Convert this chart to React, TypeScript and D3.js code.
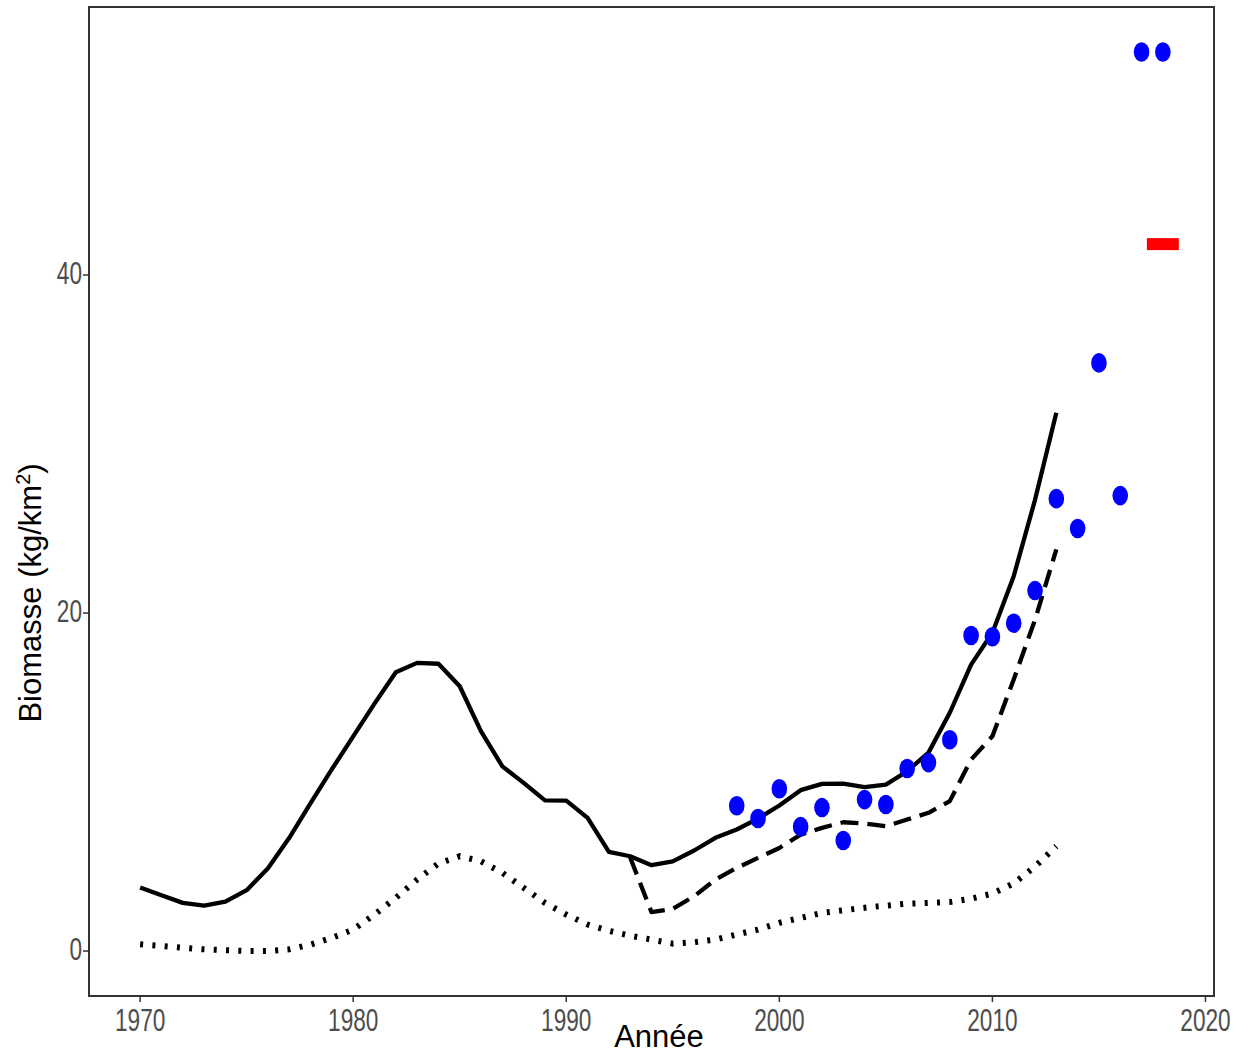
import { useEffect, useRef } from "react";
import * as d3 from "d3";

// Model estimate (solid), 1970-2013
const modelYears = [
  1970, 1971, 1972, 1973, 1974, 1975, 1976, 1977, 1978, 1979,
  1980, 1981, 1982, 1983, 1984, 1985, 1986, 1987, 1988, 1989,
  1990, 1991, 1992, 1993, 1994, 1995, 1996, 1997, 1998, 1999,
  2000, 2001, 2002, 2003, 2004, 2005, 2006, 2007, 2008, 2009,
  2010, 2011, 2012, 2013,
];
const solidValues = [
  3.76, 3.3, 2.85, 2.69, 2.93, 3.6, 4.9, 6.7, 8.75, 10.76,
  12.7, 14.64, 16.5, 17.05, 17.0, 15.67, 13.0, 10.93, 9.95, 8.92,
  8.9, 7.88, 5.87, 5.61, 5.08, 5.31, 5.95, 6.7, 7.19, 7.84,
  8.61, 9.52, 9.89, 9.91, 9.7, 9.85, 10.64, 11.74, 14.1, 16.95,
  18.83, 22.18, 26.7, 31.85,
];
const dottedValues = [
  0.4, 0.3, 0.2, 0.1, 0.05, 0.0, 0.0, 0.1, 0.38, 0.78,
  1.27, 2.16, 3.15, 4.23, 5.18, 5.61, 5.31, 4.63, 3.74, 2.85,
  2.16, 1.57, 1.2, 0.9, 0.68, 0.44, 0.52, 0.68, 0.98, 1.27,
  1.67, 1.96, 2.26, 2.41, 2.56, 2.69, 2.8, 2.85, 2.9, 3.1,
  3.4, 4.0, 5.0, 6.2,
];

// Dashed series, 1993-2013
const dashedYears = [
  1993, 1994, 1995, 1996, 1997, 1998, 1999, 2000, 2001, 2002,
  2003, 2004, 2005, 2006, 2007, 2008, 2009, 2010, 2011, 2012, 2013,
];
const dashedValues = [
  5.53, 2.3, 2.5, 3.24, 4.23, 4.92, 5.51, 6.1, 6.89, 7.29,
  7.62, 7.54, 7.38, 7.78, 8.18, 8.87, 11.33, 12.71, 16.07, 19.6, 23.76,
];

// Survey points (blue)
const surveyYears = [
  1998, 1999, 2000, 2001, 2002, 2003, 2004, 2005, 2006, 2007,
  2008, 2009, 2010, 2011, 2012, 2013, 2014, 2015, 2016, 2017, 2018,
];
const surveyValues = [
  8.6, 7.84, 9.6, 7.36, 8.49, 6.54, 8.96, 8.67, 10.8, 11.15,
  12.5, 18.67, 18.6, 19.4, 21.33, 26.77, 25.0, 34.8, 26.95, 53.2, 53.2,
];

// Red bar
const redYear = 2018;
const redValue = 41.83;

const xTicks = [1970, 1980, 1990, 2000, 2010, 2020];
const yTicks = [0, 20, 40];

export default function App() {
  const svgRef = useRef<SVGSVGElement>(null);

  useEffect(() => {
    if (!svgRef.current) return;
    document.body.style.margin = "0";

    const W = 1242;
    const H = 1053;
    const panel = { left: 89, right: 1214, top: 7, bottom: 996 };

    const svg = d3.select(svgRef.current);
    svg.selectAll("*").remove();
    svg.attr("width", W).attr("height", H).attr("viewBox", `0 0 ${W} ${H}`);

    // ggplot-style 5% expansion
    const xData: [number, number] = [1970, 2018];
    const yData: [number, number] = [0, 53.2];
    const xPad = (xData[1] - xData[0]) * 0.05;
    const yPad = (yData[1] - yData[0]) * 0.05;

    const x = d3.scaleLinear()
      .domain([xData[0] - xPad, xData[1] + xPad])
      .range([panel.left, panel.right]);
    const y = d3.scaleLinear()
      .domain([yData[0] - yPad, yData[1] + yPad])
      .range([panel.bottom, panel.top]);

    svg.append("rect")
      .attr("width", W).attr("height", H).attr("fill", "#fff");

    const line = d3.line<[number, number]>()
      .x(d => x(d[0]))
      .y(d => y(d[1]));

    const plot = svg.append("g");

    // Dotted
    plot.append("path")
      .attr("d", line(modelYears.map((yr, i) => [yr, dottedValues[i]]))!)
      .attr("fill", "none")
      .attr("stroke", "#000")
      .attr("stroke-width", 6)
      .attr("stroke-dasharray", "3,9.3");

    // Dashed
    plot.append("path")
      .attr("d", line(dashedYears.map((yr, i) => [yr, dashedValues[i]]))!)
      .attr("fill", "none")
      .attr("stroke", "#000")
      .attr("stroke-width", 4.3)
      .attr("stroke-linejoin", "round")
      .attr("stroke-dasharray", "18,9");

    // Solid
    plot.append("path")
      .attr("d", line(modelYears.map((yr, i) => [yr, solidValues[i]]))!)
      .attr("fill", "none")
      .attr("stroke", "#000")
      .attr("stroke-width", 4.3)
      .attr("stroke-linejoin", "round");

    // Survey points
    plot.selectAll(".pt")
      .data(surveyYears.map((yr, i) => [yr, surveyValues[i]]))
      .enter()
      .append("ellipse")
      .attr("class", "pt")
      .attr("cx", d => x(d[0]))
      .attr("cy", d => y(d[1]))
      .attr("rx", 7.8)
      .attr("ry", 9.8)
      .attr("fill", "#0000ff");

    // Red bar
    plot.append("rect")
      .attr("x", x(redYear - 0.75))
      .attr("width", x(redYear + 0.75) - x(redYear - 0.75))
      .attr("y", y(redValue) - 6)
      .attr("height", 12)
      .attr("fill", "#ff0000");

    // Panel border
    svg.append("rect")
      .attr("x", panel.left).attr("y", panel.top)
      .attr("width", panel.right - panel.left)
      .attr("height", panel.bottom - panel.top)
      .attr("fill", "none")
      .attr("stroke", "#333")
      .attr("stroke-width", 2);

    const tickFont = "'Liberation Sans', Arial, sans-serif";
    const tickColor = "#4d4d4d";
    const squeeze = 0.73;

    // X ticks
    const xt = svg.append("g");
    xt.selectAll("line")
      .data(xTicks)
      .enter()
      .append("line")
      .attr("x1", d => x(d)).attr("x2", d => x(d))
      .attr("y1", panel.bottom).attr("y2", panel.bottom + 6)
      .attr("stroke", "#333").attr("stroke-width", 1.5);
    xt.selectAll("text")
      .data(xTicks)
      .enter()
      .append("text")
      .attr("transform", d => `translate(${x(d)},1031) scale(${squeeze},1)`)
      .attr("text-anchor", "middle")
      .attr("font-family", tickFont)
      .attr("font-size", 31)
      .attr("fill", tickColor)
      .text(d => d);

    // Y ticks
    const yt = svg.append("g");
    yt.selectAll("line")
      .data(yTicks)
      .enter()
      .append("line")
      .attr("x1", panel.left - 6).attr("x2", panel.left)
      .attr("y1", d => y(d)).attr("y2", d => y(d))
      .attr("stroke", "#333").attr("stroke-width", 1.5);
    yt.selectAll("text")
      .data(yTicks)
      .enter()
      .append("text")
      .attr("transform", d => `translate(${panel.left - 7},${y(d) + 9}) scale(${squeeze},1)`)
      .attr("text-anchor", "end")
      .attr("font-family", tickFont)
      .attr("font-size", 31)
      .attr("fill", tickColor)
      .text(d => d);

    const titleFont = "'Liberation Sans', Arial, sans-serif";

    svg.append("text")
      .attr("x", 659)
      .attr("y", 1047)
      .attr("text-anchor", "middle")
      .attr("font-family", titleFont)
      .attr("font-size", 31)
      .attr("fill", "#000")
      .text("Année");

    const yTitle = svg.append("text")
      .attr("transform", "translate(41,593) rotate(-90)")
      .attr("text-anchor", "middle")
      .attr("font-family", titleFont)
      .attr("font-size", 31)
      .attr("fill", "#000");
    yTitle.append("tspan").text("Biomasse (kg/km");
    yTitle.append("tspan").attr("font-size", 20).attr("dy", -11).text("2");
    yTitle.append("tspan").attr("dy", 11).text(")");
  }, []);

  return <svg ref={svgRef} style={{ display: "block" }} />;
}
